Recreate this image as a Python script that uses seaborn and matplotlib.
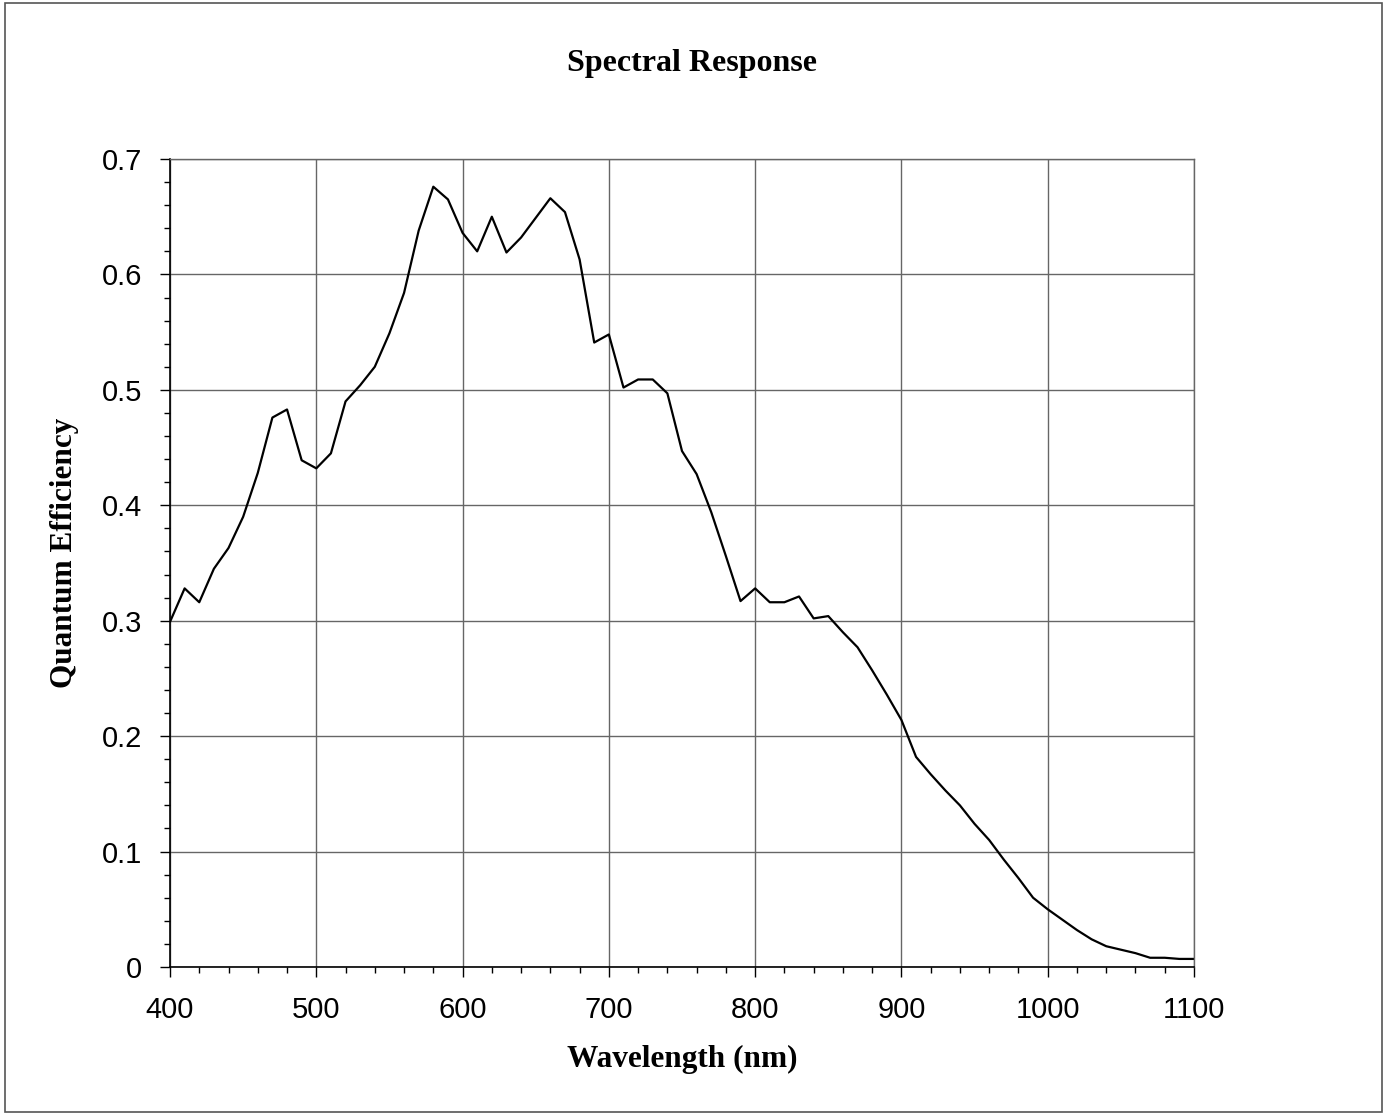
import matplotlib
matplotlib.use("Agg")
import matplotlib.pyplot as plt
from matplotlib.patches import Rectangle
from matplotlib.ticker import MultipleLocator
import seaborn as sns
import pandas as pd

# wavelength (nm) and quantum efficiency
wavelength = list(range(400, 1101, 10))
qe = [0.299, 0.328, 0.316, 0.345, 0.363, 0.390, 0.428, 0.476, 0.483, 0.439,
      0.432, 0.445, 0.490, 0.504, 0.520, 0.549, 0.584, 0.638, 0.676, 0.665,
      0.636, 0.620, 0.650, 0.619, 0.632, 0.649, 0.666, 0.654, 0.613, 0.541,
      0.548, 0.502, 0.509, 0.509, 0.497, 0.447, 0.427, 0.394, 0.356, 0.317,
      0.328, 0.316, 0.316, 0.321, 0.302, 0.304, 0.290, 0.277, 0.257, 0.236,
      0.214, 0.182, 0.167, 0.153, 0.140, 0.124, 0.110, 0.093, 0.077, 0.060,
      0.050, 0.041, 0.032, 0.024, 0.018, 0.015, 0.012, 0.008, 0.008, 0.007,
      0.007]

x_ticks = [400, 500, 600, 700, 800, 900, 1000, 1100]
y_ticks = [0, 0.1, 0.2, 0.3, 0.4, 0.5, 0.6, 0.7]
y_tick_labels = ["0", "0.1", "0.2", "0.3", "0.4", "0.5", "0.6", "0.7"]

df = pd.DataFrame({"Wavelength": wavelength, "QE": qe})

sns.set_style("white")
plt.rcParams["font.family"] = ["Liberation Sans", "DejaVu Sans"]
plt.rcParams["text.color"] = "black"

fig = plt.figure(figsize=(13.88, 11.2), dpi=100)
ax = fig.add_axes([170 / 1388, 1 - 967 / 1120, 1024 / 1388, 808 / 1120])

sns.lineplot(data=df, x="Wavelength", y="QE", ax=ax, color="black", linewidth=1.6)

ax.set_xlim(400, 1100)
ax.set_ylim(0, 0.7)
ax.set_xticks(x_ticks)
ax.set_yticks(y_ticks)
ax.set_yticklabels(y_tick_labels)
ax.xaxis.set_minor_locator(MultipleLocator(20))
ax.yaxis.set_minor_locator(MultipleLocator(0.02))

ax.grid(True, which="major", color="#666666", linewidth=1)
ax.tick_params(axis="both", which="both", bottom=True, left=True,
               top=False, right=False)
ax.tick_params(axis="both", which="major", direction="out", length=7,
               width=1, color="black", labelcolor="black", labelsize=21)
ax.tick_params(axis="both", which="minor", direction="out", length=4.5,
               width=1, color="black")
ax.tick_params(axis="x", which="major", pad=14)
ax.tick_params(axis="y", which="major", pad=13)

for side in ["left", "bottom"]:
    ax.spines[side].set_color("black")
    ax.spines[side].set_linewidth(1.2)
for side in ["top", "right"]:
    ax.spines[side].set_color("#666666")
    ax.spines[side].set_linewidth(1)

ax.set_xlabel("Wavelength (nm)", family="Liberation Serif", fontweight="bold",
              fontsize=22.5, color="black")
ax.xaxis.set_label_coords(0.5, -0.0965)
ax.xaxis.label.set_va("top")
ax.set_ylabel("Quantum Efficiency", family="Liberation Serif", fontweight="bold",
              fontsize=22.5, color="black")
ax.yaxis.set_label_coords(-0.1035, 0.512)
ax.yaxis.label.set_va("center")
ax.yaxis.label.set_ha("center")
fig.text(692 / 1388, 1 - 63 / 1120, "Spectral Response", family="Liberation Serif",
         fontweight="bold", fontsize=23, ha="center", va="center", color="black")

fig.patches.append(Rectangle((5 / 1388, 8 / 1120), 1377 / 1388, 1109 / 1120,
                             transform=fig.transFigure, fill=False,
                             edgecolor="#555555", linewidth=1.2))

fig.savefig("out.png", dpi=100)
